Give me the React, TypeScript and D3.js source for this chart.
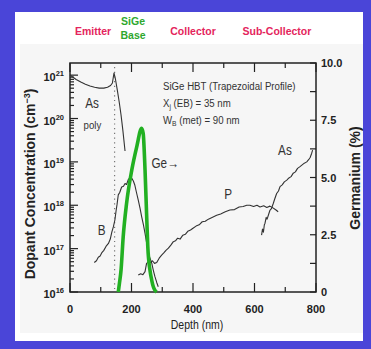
import React, { useEffect, useRef } from 'react';
import * as d3 from 'd3';

// depth axis (nm)
const depthMajorTicks = [0, 200, 400, 600, 800];
const depthMinorTicks = [100, 300, 500, 700];
// dopant axis, decades (log10 cm^-3)
const decadeTicks = [16, 17, 18, 19, 20, 21];
// germanium axis (%)
const geTickLabels = ['0', '2.5', '5.0', '7.5', '10.0'];
const geTicks = [0, 2.5, 5, 7.5, 10];
const geMinorTicks = [1.25, 3.75, 6.25, 8.75];

// region labels above the plot
const regionNames = ['Emitter', 'SiGe', 'Collector', 'Sub-Collector'];
const regionDepths = [75, 205, 400, 673];
const regionColors = ['#e4245c', '#2ea82e', '#e4245c', '#e4245c'];

// As (poly emitter), depth nm / log10 concentration
const asPolyDepth = [0, 10, 20, 35, 50, 65, 80, 95, 110, 122, 132, 138, 143, 148, 154, 160, 166, 172, 179];
const asPolyLog = [21.0, 20.95, 20.9, 20.84, 20.79, 20.75, 20.72, 20.7, 20.7, 20.72, 20.76, 20.82, 21.05, 20.9, 20.65, 20.38, 20.08, 19.72, 19.25];

// B (base)
const boronDepth = [79, 86, 92, 98, 103, 110, 117, 125, 131, 136, 141, 146, 150, 153, 157, 162, 168, 174, 179, 184, 190, 196, 201, 206, 211, 216, 222, 228, 233, 239, 244, 250, 255, 261, 266, 271, 276, 282, 287];
const boronLog = [16.68, 16.72, 16.8, 16.83, 16.9, 16.96, 17.05, 17.12, 17.22, 17.38, 17.5, 17.66, 17.88, 18.02, 18.24, 18.3, 18.42, 18.44, 18.5, 18.48, 18.6, 18.63, 18.62, 18.56, 18.46, 18.3, 18.12, 17.92, 17.74, 17.54, 17.35, 17.1, 16.9, 16.76, 16.66, 16.5, 16.36, 16.22, 16.12];

// P (collector)
const phosDepth = [222, 230, 237, 244, 249, 256, 262, 268, 275, 282, 290, 298, 305, 312, 320, 328, 336, 343, 350, 358, 367, 375, 383, 392, 400, 410, 420, 430, 440, 450, 462, 477, 490, 505, 520, 535, 550, 563, 575, 585, 597, 608, 618, 630, 640, 650, 660, 670, 677];
const phosLog = [16.39, 16.42, 16.4, 16.47, 16.66, 16.7, 16.68, 16.72, 16.66, 16.68, 16.78, 16.85, 16.9, 16.96, 17.01, 17.08, 17.16, 17.18, 17.24, 17.22, 17.31, 17.33, 17.4, 17.43, 17.47, 17.52, 17.55, 17.62, 17.63, 17.68, 17.72, 17.77, 17.8, 17.85, 17.89, 17.9, 17.96, 17.97, 18.0, 18.0, 17.97, 18.0, 17.96, 17.99, 17.95, 17.98, 17.94, 17.89, 17.85];

// As (sub-collector)
const asSubDepth = [623, 626, 629, 632, 634, 638, 641, 645, 650, 655, 661, 666, 672, 678, 683, 690, 697, 705, 712, 719, 726, 733, 740, 748, 755, 762, 770, 776, 781, 786, 789];
const asSubLog = [17.31, 17.45, 17.38, 17.55, 17.58, 17.72, 17.68, 17.77, 17.88, 17.92, 18.04, 18.15, 18.27, 18.33, 18.43, 18.47, 18.54, 18.58, 18.63, 18.66, 18.74, 18.77, 18.85, 18.89, 18.93, 18.97, 19.0, 19.05, 19.1, 19.2, 19.27];

// Ge profile (%)
const geDepth = [157, 161, 166, 173, 184, 201, 217, 233, 238, 244, 249, 253, 260, 266, 271, 276, 282];
const gePct = [0, 0.4, 0.96, 2.41, 3.87, 5.33, 6.34, 7.15, 6.93, 5.33, 3.44, 1.98, 0.96, 0.5, 0.23, 0.08, 0];

const emitterJunction = 145;

const sans = "'Liberation Sans', Arial, sans-serif";

const App = () => {
  const ref = useRef<SVGSVGElement>(null);

  useEffect(() => {
    const width = 371;
    const height = 349;
    const plot = { left: 70, right: 316, top: 63, bottom: 292 };

    const svg = d3.select(ref.current);
    svg.selectAll('*').remove();

    // slide background
    svg.append('rect').attr('width', width).attr('height', height).attr('fill', '#4a45d8');
    svg.append('rect').attr('x', 15).attr('y', 12).attr('width', 348).attr('height', 329).attr('fill', '#ffffff');
    svg.append('rect').attr('x', 20).attr('y', 44).attr('width', 343).attr('height', 289).attr('fill', '#f6f6f6');

    const x = d3.scaleLinear().domain([0, 800]).range([plot.left, plot.right]);
    const yDop = d3.scaleLog().domain([1e16, 10 ** 21.28]).range([plot.bottom, plot.top]);
    const yGe = d3.scaleLinear().domain([0, 10]).range([plot.bottom, plot.top]);

    const ink = '#222';

    // condensed text: regular font squeezed horizontally
    const narrowText = (px: number, py: number, size: number, anchor = 'start') =>
      svg.append('g')
        .attr('transform', `translate(${px},${py}) scale(0.84,1)`)
        .append('text')
        .attr('text-anchor', anchor)
        .attr('fill', '#333')
        .style('font-family', sans)
        .style('font-size', `${size}px`);

    // region labels
    regionNames.forEach((name, i) => {
      const t = svg.append('text')
        .attr('x', x(regionDepths[i]))
        .attr('y', 35)
        .attr('text-anchor', 'middle')
        .attr('fill', regionColors[i])
        .style('font-family', sans)
        .style('font-size', '10.5px')
        .style('font-weight', 'bold');
      if (name === 'SiGe') {
        t.append('tspan').attr('x', x(regionDepths[i])).attr('y', 25).text('SiGe');
        t.append('tspan').attr('x', x(regionDepths[i])).attr('y', 39).text('Base');
      } else {
        t.text(name);
      }
    });

    const g = svg.append('g');

    // emitter-base junction marker
    g.append('line')
      .attr('x1', x(emitterJunction)).attr('x2', x(emitterJunction))
      .attr('y1', plot.top + 4).attr('y2', plot.bottom)
      .attr('stroke', '#777').attr('stroke-width', 1.2)
      .attr('stroke-dasharray', '1.2,3.5');

    // frame
    g.append('rect')
      .attr('x', plot.left).attr('y', plot.top)
      .attr('width', plot.right - plot.left).attr('height', plot.bottom - plot.top)
      .attr('fill', 'none').attr('stroke', ink).attr('stroke-width', 1.5);

    // depth ticks, top and bottom, pointing inward
    const tickG = g.append('g').attr('stroke', ink).attr('stroke-width', 1.2);
    depthMajorTicks.concat(depthMinorTicks).forEach(d => {
      const len = depthMajorTicks.includes(d) ? 9 : 5;
      tickG.append('line').attr('x1', x(d)).attr('x2', x(d)).attr('y1', plot.bottom).attr('y2', plot.bottom - len);
      tickG.append('line').attr('x1', x(d)).attr('x2', x(d)).attr('y1', plot.top).attr('y2', plot.top + len);
    });

    // dopant ticks (log decades plus minor 2..9)
    decadeTicks.forEach(e => {
      const yy = yDop(10 ** e);
      tickG.append('line').attr('x1', plot.left).attr('x2', plot.left + 8).attr('y1', yy).attr('y2', yy);
      for (let m = 2; m <= 9; m++) {
        const v = m * 10 ** e;
        if (v > yDop.domain()[1]) continue;
        const ym = yDop(v);
        tickG.append('line').attr('x1', plot.left).attr('x2', plot.left + 4).attr('y1', ym).attr('y2', ym);
      }
    });

    // germanium ticks
    geTicks.concat(geMinorTicks).forEach(v => {
      const yy = yGe(v);
      tickG.append('line').attr('x1', plot.right).attr('x2', plot.right - 6).attr('y1', yy).attr('y2', yy);
    });

    // tick labels
    const labelStyle = (s: d3.Selection<SVGTextElement, unknown, null, undefined>) =>
      s.attr('fill', ink).style('font-family', sans).style('font-size', '11px').style('font-weight', 'bold');

    depthMajorTicks.forEach(d => {
      svg.append('text').call(labelStyle)
        .attr('x', x(d)).attr('y', 313).attr('text-anchor', 'middle').text(d);
    });

    decadeTicks.forEach(e => {
      const t = svg.append('text').call(labelStyle)
        .attr('x', 64).attr('y', yDop(10 ** e) + 6).attr('text-anchor', 'end');
      t.append('tspan').text('10');
      t.append('tspan').attr('dy', -5).style('font-size', '7.5px').text(e);
    });

    geTicks.forEach((v, i) => {
      svg.append('text').call(labelStyle)
        .attr('x', 321).attr('y', yGe(v) + 4).attr('text-anchor', 'start').text(geTickLabels[i]);
    });

    // axis titles
    narrowText((plot.left + plot.right) / 2 + 4, 329, 12.5, 'middle').attr('fill', ink).text('Depth (nm)');

    const leftTitle = svg.append('text')
      .attr('transform', `translate(35,${184}) rotate(-90)`)
      .attr('text-anchor', 'middle').attr('fill', ink)
      .style('font-family', sans).style('font-size', '14px').style('font-weight', 'bold');
    leftTitle.append('tspan').text('Dopant Concentration (cm');
    leftTitle.append('tspan').attr('dy', -5).style('font-size', '9px').text('−3');
    leftTitle.append('tspan').attr('dy', 5).text(')');

    svg.append('text')
      .attr('transform', `translate(360,${178}) rotate(-90)`)
      .attr('text-anchor', 'middle').attr('fill', ink)
      .style('font-family', sans).style('font-size', '14px').style('font-weight', 'bold')
      .text('Germanium (%)');

    // dopant curves
    const dopLine = d3.line<[number, number]>()
      .x(d => x(d[0]))
      .y(d => yDop(10 ** d[1]));
    const curves: [number[], number[]][] = [
      [asPolyDepth, asPolyLog],
      [boronDepth, boronLog],
      [phosDepth, phosLog],
      [asSubDepth, asSubLog],
    ];
    curves.forEach(([ds, ls]) => {
      g.append('path')
        .attr('d', dopLine(ds.map((d, i) => [d, ls[i]] as [number, number])))
        .attr('fill', 'none').attr('stroke', '#333').attr('stroke-width', 1.1)
        .attr('stroke-linejoin', 'round');
    });

    // germanium profile
    const geLine = d3.line<[number, number]>()
      .x(d => x(d[0]))
      .y(d => yGe(d[1]))
      .curve(d3.curveMonotoneX);
    g.append('path')
      .attr('d', geLine(geDepth.map((d, i) => [d, gePct[i]] as [number, number])))
      .attr('fill', 'none').attr('stroke', '#22b022').attr('stroke-width', 3.6)
      .attr('stroke-linejoin', 'round');

    // curve labels
    const curveLabel = (txt: string, d: number, l: number, size: number) =>
      narrowText(x(d), yDop(10 ** l) + size * 0.35, size, 'middle').text(txt);
    curveLabel('As', 72, 20.35, 14);
    curveLabel('poly', 73, 19.85, 11.5);
    curveLabel('B', 103, 17.43, 14);
    curveLabel('P', 514, 18.26, 14);
    curveLabel('As', 699, 19.27, 14);
    narrowText(x(265), yDop(10 ** 18.97) + 5, 14).text('Ge→');

    // annotation
    narrowText(163, 90, 11.5).text('SiGe HBT (Trapezoidal Profile)');
    const l2 = narrowText(163, 107, 11.5);
    l2.append('tspan').text('X');
    l2.append('tspan').attr('dy', 2).style('font-size', '8px').text('j');
    l2.append('tspan').attr('dy', -2).text(' (EB) = 35 nm');
    const l3 = narrowText(163, 124, 11.5);
    l3.append('tspan').text('W');
    l3.append('tspan').attr('dy', 2).style('font-size', '8px').text('B');
    l3.append('tspan').attr('dy', -2).text(' (met) = 90 nm');
  }, []);

  return (
    <svg
      ref={ref}
      width={371}
      height={349}
      style={{ position: 'absolute', left: 0, top: 0, display: 'block' }}
    />
  );
};

export default App;
